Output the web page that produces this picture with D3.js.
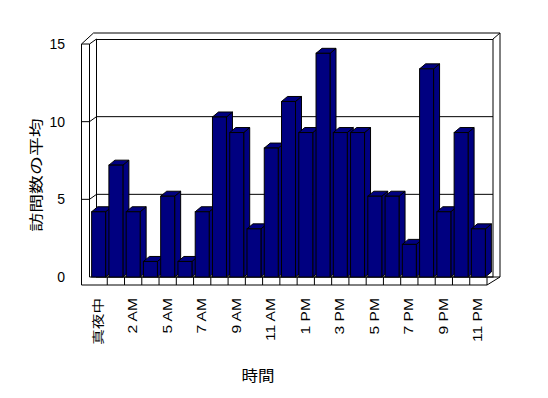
<!DOCTYPE html>
<html>
<head>
<meta charset="utf-8">
<script src="https://cdn.jsdelivr.net/npm/d3@7"></script>
<style>
  body { margin: 0; background: #fff; }
  text { font-family: "Liberation Sans", Arial, "Noto Sans CJK JP", sans-serif; fill: #000; }
</style>
</head>
<body>
<div id="chart"></div>
<script>
// hours of the day (3 AM has no data)
var hours = ["真夜中", "1 AM", "2 AM", "4 AM", "5 AM", "6 AM", "7 AM", "8 AM", "9 AM", "10 AM", "11 AM", "正午",
  "1 PM", "2 PM", "3 PM", "4 PM", "5 PM", "6 PM", "7 PM", "8 PM", "9 PM", "10 PM", "11 PM"];
// average visits per hour
var visits = [4.2, 7.2, 4.2, 1.0, 5.2, 1.0, 4.2, 10.3, 9.3, 3.1, 8.3, 11.3,
  9.3, 14.4, 9.3, 9.3, 5.2, 5.2, 2.1, 13.4, 4.2, 9.3, 3.1];
var yTicks = [0, 5, 10, 15];

var svgWidth = 548;
var svgHeight = 398;

// 3d depth offset of walls / bars
var dx = 7, dy = -5;
var bdx = 6, bdy = -5;

var svg = d3.select("#chart")
  .append("svg")
  .attr("width", svgWidth)
  .attr("height", svgHeight);

var xScale = d3.scaleBand()
  .domain(hours)
  .range([90, 487])
  .paddingInner(0.19)
  .paddingOuter(0.095);

var yScale = d3.scaleLinear()
  .domain([0, 15])
  .range([277, 44]);

var y0 = yScale(0);
var yTop = yScale(15);
var xL = 81.5, xI = 89.5, xR = 487;

var frame = svg.append("g")
  .attr("fill", "none")
  .attr("stroke", "#000")
  .attr("stroke-width", 1);

// back wall face
frame.append("rect")
  .attr("x", xI + dx).attr("y", yTop + dy + 0.5)
  .attr("width", (xR + 13 - dx) - (xI + dx)).attr("height", y0 - (yTop + dy + 0.5))
  .attr("fill", "#fff");

// wall outline
var outline = [
  [[xL, yTop], [xL, y0 + 8]],
  [[xI, yTop], [xI, y0]],
  [[xL, yTop], [xI, yTop]],
  [[xL, yTop], [xI + 4, yTop + 2 * dy - 1]],
  [[xI, yTop], [xI + dx, yTop + dy]],
  [[xI + 4, yTop + 2 * dy - 1], [xR + 13, yTop + 2 * dy - 1]],
  [[xR + 13, yTop + 2 * dy - 1], [xR + 13, y0]],
  [[xR + 13 - dx, yTop + dy], [xR + 13, yTop + 2 * dy - 1]],
  [[xL, y0 + 8], [xR, y0 + 8]],
  [[xI, y0], [xR + 13, y0]],
  [[xR, y0], [xR, y0 + 8]],
  [[xR, y0 + 8], [xR + 13, y0]]
];
frame.selectAll("line.edge")
  .data(outline)
  .enter()
  .append("line")
  .attr("class", "edge")
  .attr("x1", d => d[0][0]).attr("y1", d => d[0][1])
  .attr("x2", d => d[1][0]).attr("y2", d => d[1][1]);

// gridlines on back wall + left wall
var grid = yTicks.filter(t => t > 0 && t < 15);
grid.forEach(function(t) {
  var y = yScale(t);
  frame.append("polyline")
    .attr("points", [[xL, y], [xI, y], [xI + dx, y + dy], [xR + 13 - dx, y + dy]].join(" "));
});

// category ticks on the floor edge
frame.selectAll("line.tick")
  .data(hours.slice(1))
  .enter()
  .append("line")
  .attr("class", "tick")
  .attr("x1", d => xScale(d) - xScale.step() * xScale.paddingInner() / 2)
  .attr("x2", d => xScale(d) - xScale.step() * xScale.paddingInner() / 2)
  .attr("y1", y0).attr("y2", y0 + 8);

// bars
var bw = xScale.bandwidth();
var bars = svg.append("g")
  .attr("fill", "#000080")
  .attr("stroke", "#000")
  .attr("stroke-width", 1)
  .attr("stroke-linejoin", "miter");

var barGroups = bars.selectAll("g")
  .data(hours.map((h, i) => ({ h: h, v: visits[i] })))
  .enter()
  .append("g");

barGroups.append("polygon")
  .attr("points", function(d) {
    var x = xScale(d.h), y = yScale(d.v);
    return [[x + bw, y], [x + bw + bdx, y + bdy], [x + bw + bdx, y0 + bdy], [x + bw, y0]].join(" ");
  });
barGroups.append("polygon")
  .attr("points", function(d) {
    var x = xScale(d.h), y = yScale(d.v);
    return [[x, y], [x + bdx, y + bdy], [x + bw + bdx, y + bdy], [x + bw, y]].join(" ");
  });
barGroups.append("rect")
  .attr("x", d => xScale(d.h))
  .attr("y", d => yScale(d.v))
  .attr("width", bw)
  .attr("height", d => y0 - yScale(d.v));

// y tick labels
svg.selectAll("text.ylab")
  .data(yTicks)
  .enter()
  .append("text")
  .attr("class", "ylab")
  .attr("x", 65)
  .attr("y", d => yScale(d))
  .attr("dy", "0.36em")
  .attr("text-anchor", "end")
  .attr("font-size", "14px")
  .text(d => d);

// x tick labels (every other hour)
svg.selectAll("text.xlab")
  .data(hours.filter((h, i) => i % 2 === 0))
  .enter()
  .append("text")
  .attr("class", "xlab")
  .attr("transform", d => `translate(${xScale(d) + bw / 2 + 4}, 298) rotate(-90) scale(1.3,1)`)
  .attr("text-anchor", "end")
  .attr("font-size", "12px")
  .text(d => d);

// axis titles
svg.append("text")
  .attr("transform", "translate(41, 175) rotate(-90) scale(1.35,1)")
  .attr("text-anchor", "middle")
  .attr("font-size", "14px")
  .text("訪問数の平均");

svg.append("text")
  .attr("transform", "translate(258, 381) scale(1.1,1)")
  .attr("text-anchor", "middle")
  .attr("font-size", "15px")
  .text("時間");
</script>
</body>
</html>
